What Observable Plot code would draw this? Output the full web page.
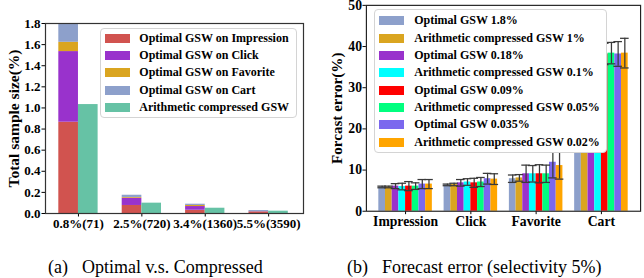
<!DOCTYPE html>
<html><head><meta charset="utf-8">
<script src="https://cdn.jsdelivr.net/npm/d3@7"></script>
<script src="https://cdn.jsdelivr.net/npm/@observablehq/plot@0.6"></script>
<style>
body{margin:0;width:644px;height:278px;overflow:hidden;background:#fff;font-family:'Liberation Serif','Times New Roman',serif;position:relative}
.panel{position:absolute;top:0}
.legend{position:absolute;background:#fff;border:1px solid #d4d4d4;border-radius:4px;box-sizing:border-box}
.row{position:absolute;height:17.4px;display:flex;align-items:center;white-space:nowrap;font-weight:bold;font-size:12px;color:#000}
.sw{width:25px;height:9px;flex:none}
.cap{position:absolute;top:258px;font-size:18px;line-height:18px;white-space:nowrap;color:#000}
#a svg g[aria-label^="x-axis"] text, #a svg g[aria-label^="y-axis"] text{font-size:13px;font-weight:bold;font-family:'Liberation Serif',serif}
#b svg g[aria-label^="x-axis"] text, #b svg g[aria-label^="y-axis"] text{font-size:14px;font-weight:bold;font-family:'Liberation Serif',serif}
</style></head><body>
<div id="a" class="panel" style="left:0"></div>
<div id="b" class="panel" style="left:322px"></div>
<div id="legA"></div>
<div id="legB"></div>
<div class="cap" style="left:48px">(a)<span style="margin-left:14px">Optimal v.s. Compressed</span></div>
<div class="cap" style="left:347px">(b)<span style="margin-left:14px">Forecast error (selectivity 5%)</span></div>
<script>
// ---------- Left chart data ----------
const groups = ["0.8%(71)", "2.5%(720)", "3.4%(1360)", "5.5%(3590)"];
const stackSeries = ["Optimal GSW on Impression", "Optimal GSW on Click", "Optimal GSW on Favorite", "Optimal GSW on Cart"];
const compressedLabel = "Arithmetic compressed GSW";
const sizeImpression = [0.865, 0.076, 0.031, 0.010];
const sizeClick = [0.669, 0.069, 0.035, 0.006];
const sizeFavorite = [0.088, 0.007, 0.010, 0.003];
const sizeCart = [0.168, 0.021, 0.012, 0.009];
const sizeCompressed = [1.032, 0.098, 0.050, 0.022];
const leftColors = ["#d1534f", "#9932cc", "#daa520", "#8da0cb", "#66c2a5"];
const leftYTicks = [0, 0.2, 0.4, 0.6, 0.8, 1.0, 1.2, 1.4, 1.6, 1.8];

// ---------- Right chart data ----------
const metrics = ["Impression", "Click", "Favorite", "Cart"];
const methods = ["Optimal GSW 1.8%", "Arithmetic compressed GSW 1%", "Optimal GSW 0.18%", "Arithmetic compressed GSW 0.1%",
  "Optimal GSW 0.09%", "Arithmetic compressed GSW 0.05%", "Optimal GSW 0.035%", "Arithmetic compressed GSW 0.02%"];
const errImpression = [5.9, 5.9, 6.1, 6.0, 6.1, 6.1, 6.6, 6.6];
const errClick = [6.4, 6.5, 6.9, 7.1, 6.9, 7.1, 7.9, 7.8];
const errFavorite = [7.9, 8.1, 9.1, 9.1, 9.1, 9.1, 11.9, 11.1];
const errCart = [38.0, 38.3, 38.1, 38.3, 38.2, 38.4, 38.2, 38.4];
const sdImpression = [0.2, 0.2, 0.6, 0.8, 1.1, 0.8, 1.1, 1.1];
const sdClick = [0.2, 0.3, 0.8, 0.8, 1.1, 1.1, 1.3, 1.3];
const sdFavorite = [0.9, 0.8, 2.1, 2.0, 2.2, 2.1, 3.8, 3.3];
const sdCart = [2.5, 2.5, 2.6, 2.6, 2.6, 2.6, 3.0, 3.6];
const rightColors = ["#8da0cb", "#daa520", "#9932cc", "#00ffff", "#ff0000", "#00ff7f", "#7b68ee", "#ffa500"];
const rightYTicks = [0, 10, 20, 30, 40, 50];

// ---------- Left chart ----------
const halfW = 0.31;
const stackRows = [];
const stackVals = [sizeImpression, sizeClick, sizeFavorite, sizeCart];
stackVals.forEach((vals, s) => {
  vals.forEach((v, g) => {
    const base = d3.sum(stackVals.slice(0, s), a => a[g]);
    stackRows.push({g, series: stackSeries[s], y1: base, y2: base + v});
  });
});
const compRows = sizeCompressed.map((v, g) => ({g, series: compressedLabel, y1: 0, y2: v}));

const fontA = {fontFamily: "'Liberation Serif','Times New Roman',serif", fontWeight: "bold", fontSize: "13px", color: "#000", background: "transparent", overflow: "visible"};
const chartA = Plot.plot({
  width: 322, height: 240,
  marginLeft: 45, marginRight: 19, marginTop: 23, marginBottom: 27,
  style: fontA,
  x: {domain: [-0.52, 3.55], ticks: [0, 1, 2, 3], tickFormat: i => groups[i], tickSize: 3.5, tickPadding: 1.5, label: null},
  y: {domain: [0, 1.8], ticks: leftYTicks, tickFormat: d => d.toFixed(1), tickSize: 3.5, tickPadding: 1.5, label: null},
  color: {domain: [...stackSeries, compressedLabel], range: leftColors},
  marks: [
    Plot.rect(stackRows, {x1: d => d.g - halfW, x2: d => d.g, y1: "y1", y2: "y2", fill: "series"}),
    Plot.rect(compRows, {x1: d => d.g, x2: d => d.g + halfW, y1: "y1", y2: "y2", fill: "series"}),
    Plot.frame({stroke: "#333", strokeWidth: 1.2}),
    Plot.text(["Total sample size(%)"], {text: d => d, frameAnchor: "left", textAnchor: "middle", rotate: -90, dx: -31, fontSize: 15.5, fontWeight: "bold"})
  ]
});
document.getElementById("a").append(chartA);

// ---------- Right chart ----------
const bw = 0.1025, capW = 0.066;
const errRows = [];
[errImpression, errClick, errFavorite, errCart].forEach((vals, g) => {
  const sds = [sdImpression, sdClick, sdFavorite, sdCart][g];
  vals.forEach((v, i) => {
    const xc = g + (i - 3.5) * bw;
    errRows.push({g, method: methods[i], v, xc, lo: v - sds[i], hi: v + sds[i]});
  });
});
const fontB = {...fontA, fontSize: "14px"};
const chartB = Plot.plot({
  width: 330, height: 240,
  marginLeft: 45, marginRight: 4, marginTop: 5, marginBottom: 24,
  style: fontB,
  x: {domain: [-0.6, 3.6], ticks: [0, 1, 2, 3], tickFormat: i => metrics[i], tickSize: 3.5, tickPadding: 1.5, label: null},
  y: {domain: [0, 50], ticks: rightYTicks, tickSize: 3.5, tickPadding: 1, label: null},
  color: {domain: methods, range: rightColors},
  marks: [
    Plot.rect(errRows, {x1: d => d.xc - bw / 2, x2: d => d.xc + bw / 2, y1: () => 0, y2: "v", fill: "method"}),
    Plot.ruleX(errRows, {x: "xc", y1: "lo", y2: "hi", stroke: "#3a3a3a", strokeWidth: 1.3}),
    Plot.ruleY(errRows, {y: "hi", x1: d => d.xc - capW, x2: d => d.xc + capW, stroke: "#3a3a3a", strokeWidth: 1.3}),
    Plot.ruleY(errRows, {y: "lo", x1: d => d.xc - capW, x2: d => d.xc + capW, stroke: "#3a3a3a", strokeWidth: 1.3}),
    Plot.frame({stroke: "#222", strokeWidth: 1.2}),
    Plot.text(["Forcast error(%)"], {text: d => d, frameAnchor: "left", textAnchor: "middle", rotate: -90, dx: -30, fontSize: 15.5, fontWeight: "bold"})
  ]
});
document.getElementById("b").append(chartB);

// ---------- Legends (HTML overlays) ----------
function legend(el, box, labels, colors, firstCenter, step, swLeft, textGap) {
  const b = document.createElement("div");
  b.className = "legend";
  Object.assign(b.style, {left: box[0] + "px", top: box[1] + "px", width: box[2] + "px", height: box[3] + "px"});
  el.append(b);
  labels.forEach((lab, i) => {
    const r = document.createElement("div");
    r.className = "row";
    r.style.left = swLeft + "px";
    r.style.top = (firstCenter + i * step - 8.7) + "px";
    const sw = document.createElement("span");
    sw.className = "sw"; sw.style.background = colors[i];
    const t = document.createElement("span");
    t.textContent = lab; t.style.marginLeft = textGap + "px";
    r.append(sw, t);
    el.append(r);
  });
}
legend(document.getElementById("legA"), [100, 28, 197, 90], [...stackSeries, compressedLabel], leftColors, 38.3, 17.3, 105, 9.3);
legend(document.getElementById("legB"), [374, 9, 233, 144], methods, rightColors, 20.7, 17.37, 378.7, 10.6);
</script>
</body></html>
